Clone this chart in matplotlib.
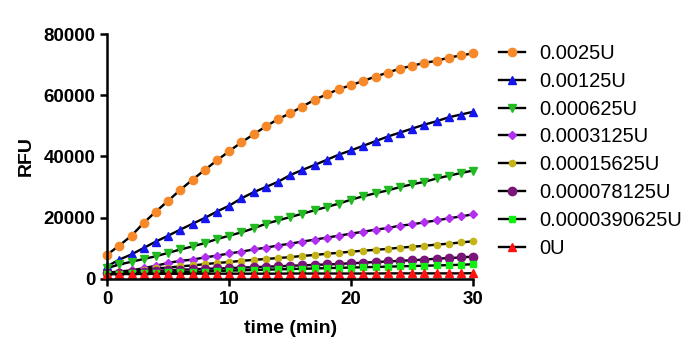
import matplotlib.pyplot as plt

plt.rcParams['font.family'] = ['Liberation Sans', 'DejaVu Sans']

t = list(range(31))

u0025 = [7900, 10900, 14100, 18300, 22000, 25500, 29100, 32400, 35600, 38700,
         41700, 44600, 47200, 49800, 52200, 54100, 56300, 58500, 60300, 62000,
         63300, 64700, 66100, 67400, 68700, 69600, 70600, 71200, 72300, 73000, 73700]
u00125 = [4100, 6300, 8000, 10100, 12200, 14100, 16100, 18000, 19900, 22000,
          23900, 26300, 28300, 30000, 31700, 33900, 35600, 37200, 38900, 40600,
          42000, 43500, 45000, 46500, 47800, 49100, 50400, 51500, 52800, 53700, 54600]
u000625 = [3500, 4700, 5600, 6500, 7400, 8500, 9600, 10600, 11700, 13000,
           14100, 15200, 16500, 18000, 19100, 20200, 21300, 22400, 23500, 24600,
           25900, 27000, 28000, 28900, 30000, 30900, 31700, 32800, 33700, 34600, 35400]
u0003125 = [2000, 2400, 2800, 3500, 4300, 5200, 5900, 6300, 7000, 7600,
            8300, 8900, 9600, 10200, 10900, 11500, 12200, 12800, 13500, 14100,
            14800, 15400, 16100, 16600, 17400, 17800, 18500, 19100, 19800, 20400, 21100]
u00015625 = [2000, 2300, 2600, 3000, 3400, 3700, 4100, 4400, 4800, 5200,
             5500, 5900, 6200, 6500, 6800, 7100, 7500, 7800, 8200, 8500,
             8900, 9200, 9500, 9800, 10200, 10500, 10800, 11200, 11500, 11900, 12300]
u000078125 = [1800, 2000, 2200, 2400, 2600, 2800, 3000, 3100, 3300, 3400,
              3500, 3700, 3800, 4000, 4100, 4300, 4400, 4600, 4700, 4900,
              5100, 5300, 5500, 5700, 5900, 6100, 6300, 6600, 6800, 7000, 7300]
u0000390625 = [1600, 1700, 1800, 1900, 2000, 2100, 2200, 2300, 2400, 2600,
               2700, 2800, 2900, 3000, 3100, 3200, 3300, 3400, 3500, 3600,
               3700, 3800, 3900, 4000, 4100, 4200, 4300, 4400, 4500, 4600, 4800]
u0 = [1500, 1550, 1600, 1600, 1650, 1650, 1650, 1700, 1700, 1700,
      1700, 1700, 1700, 1700, 1700, 1750, 1750, 1750, 1750, 1750,
      1750, 1750, 1750, 1800, 1800, 1800, 1800, 1800, 1800, 1800, 1850]

labels = ['0.0025U', '0.00125U', '0.000625U', '0.0003125U', '0.00015625U',
          '0.000078125U', '0.0000390625U', '0U']
series = [u0025, u00125, u000625, u0003125, u00015625, u000078125, u0000390625, u0]
colors = ['#f7892a', '#1515ee', '#22bb22', '#b22ef0', '#c4b418', '#7a157a', '#11ee11', '#ff1111']
markers = ['o', '^', 'v', 'D', 'o', 'o', 's', '^']
msizes = [6, 6, 6, 4.5, 4.5, 6, 4, 6]

fig = plt.figure(figsize=(7, 3.58), dpi=100)
ax = fig.add_axes([0.153, 0.221, 0.523, 0.684])

handles = []
for y, lab, c, m, ms in zip(series, labels, colors, markers, msizes):
    h, = ax.plot(t, y, '-', color='black', linewidth=1.7, marker=m, markersize=ms,
                 markerfacecolor=c, markeredgecolor=c, label=lab, clip_on=False)
    handles.append(h)

ax.set_xlim(0, 30)
ax.set_ylim(0, 80000)
ax.set_xticks([0, 10, 20, 30])
ax.set_yticks([0, 20000, 40000, 60000, 80000])
ax.spines['top'].set_visible(False)
ax.spines['right'].set_visible(False)
ax.spines['left'].set_linewidth(1.8)
ax.spines['bottom'].set_linewidth(1.8)
ax.tick_params(axis='both', direction='out', length=5, width=1.8, labelsize=13.5)
for lbl in ax.get_xticklabels() + ax.get_yticklabels():
    lbl.set_fontweight('bold')

ax.set_xlabel('time (min)', fontsize=14, fontweight='bold', labelpad=9)
ax.set_ylabel('RFU', fontsize=14, fontweight='bold', labelpad=6)

fig.legend(handles=handles, loc='upper left', bbox_to_anchor=(0.702, 0.90),
           frameon=False, fontsize=14.5, handlelength=1.25, handletextpad=0.75,
           labelspacing=0.44, borderaxespad=0)

plt.savefig('out.png', dpi=100)
